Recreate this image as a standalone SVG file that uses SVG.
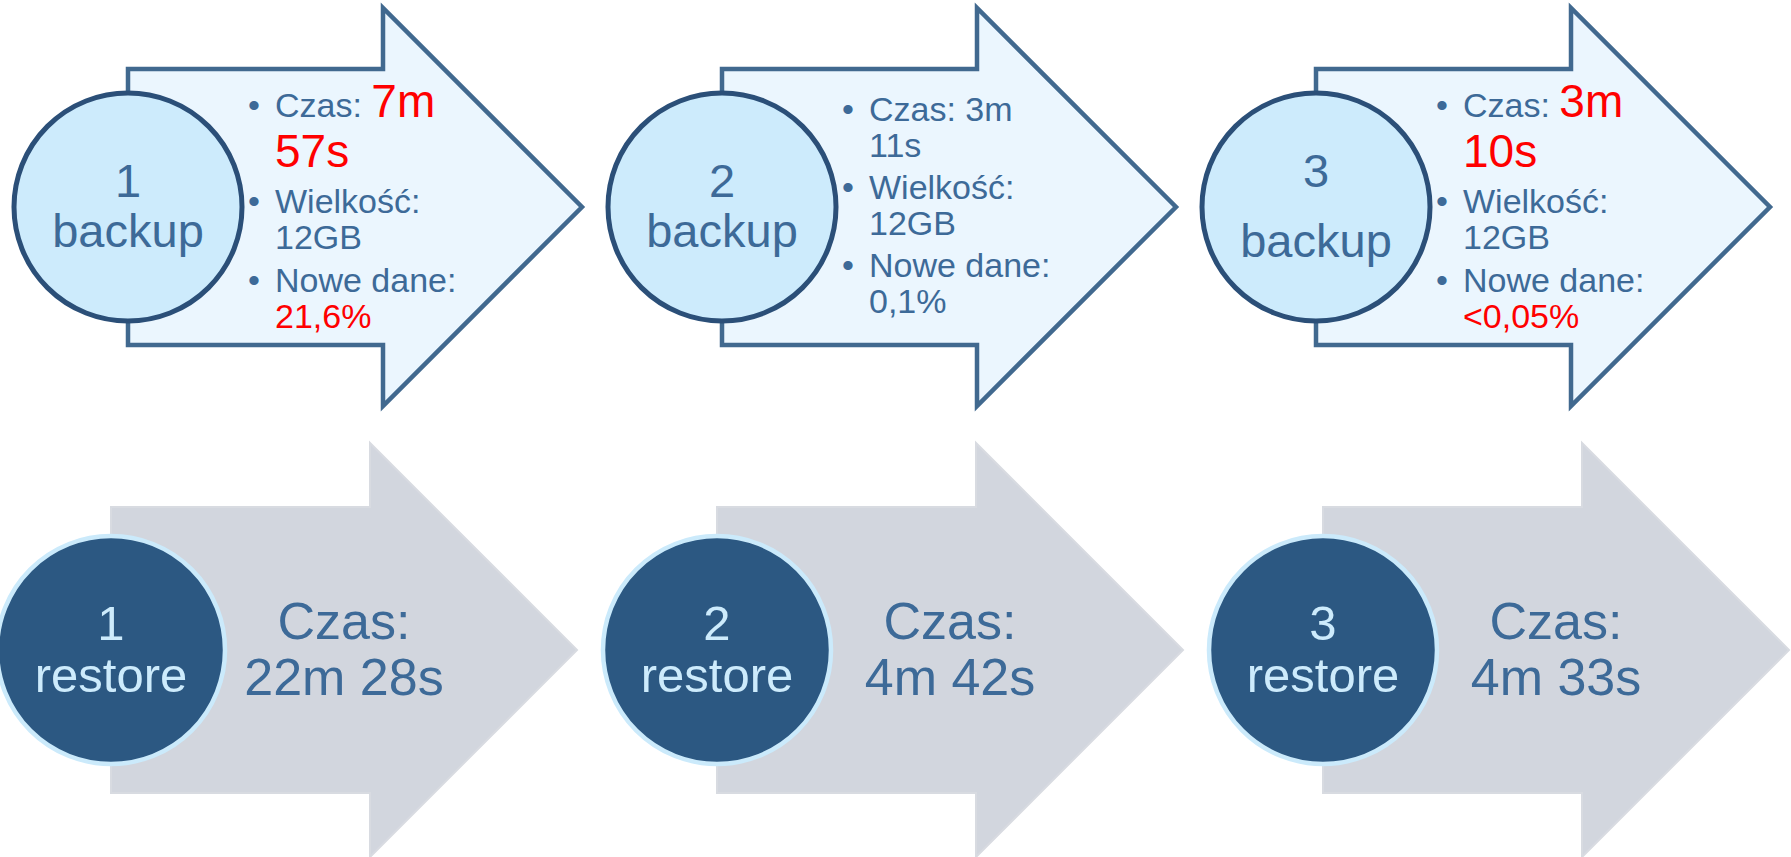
<svg xmlns="http://www.w3.org/2000/svg" xmlns:xlink="http://www.w3.org/1999/xlink" width="1791" height="857" viewBox="0 0 1791 857">
<style>
text{font-family:"Liberation Sans",Arial,sans-serif}
.barrow{fill:#EBF6FE;stroke:#41698F;stroke-width:4.5;stroke-linejoin:miter}
.bcirc{fill:#CDEBFC;stroke:#2B4F78;stroke-width:5}
.rarrow{fill:#D2D6DE;stroke:#D8DBE1;stroke-width:2}
.rcirc{fill:#2C5882;stroke:#CBEAFB;stroke-width:4.5}
.ctext{fill:#3D6A98;font-size:47px;text-anchor:middle}
.rctext{fill:#CDEBFC;font-size:49px;text-anchor:middle}
.btext{fill:#3D6A98;font-size:34px}
.red{fill:#FF0000}
.big{font-size:46px}
.rtext{fill:#3D6A98;font-size:52px;text-anchor:middle}
</style>
<defs>
<path id="bshape" d="M128,69 L383,69 L383,8 L582,207 L383,406 L383,345 L128,345 Z"/>
<path id="rshape" d="M111,507 L370,507 L370,443 L577,650 L370,857 L370,793 L111,793 Z"/>
</defs>
<g id="connectors"/>
<g id="backup1">
<use xlink:href="#bshape" class="barrow"/>
<circle class="bcirc" cx="128" cy="207" r="114"/>
<text class="ctext" x="128" y="197">1</text>
<text class="ctext" x="128" y="247">backup</text>
<text class="btext" x="248" y="117">•</text>
<text class="btext" x="275" y="117">Czas: <tspan class="red big">7m</tspan></text>
<text class="btext red big" x="275" y="167">57s</text>
<text class="btext" x="248" y="213">•</text>
<text class="btext" x="275" y="213">Wielkość:</text>
<text class="btext" x="275" y="249">12GB</text>
<text class="btext" x="248" y="292">•</text>
<text class="btext" x="275" y="292">Nowe dane:</text>
<text class="btext red" x="275" y="328">21,6%</text>
</g>
<g id="backup2">
<use xlink:href="#bshape" class="barrow" transform="translate(594,0)"/>
<circle class="bcirc" cx="722" cy="207" r="114"/>
<text class="ctext" x="722" y="197">2</text>
<text class="ctext" x="722" y="247">backup</text>
<text class="btext" x="842" y="121">•</text>
<text class="btext" x="869" y="121">Czas: 3m</text>
<text class="btext" x="869" y="157">11s</text>
<text class="btext" x="842" y="199">•</text>
<text class="btext" x="869" y="199">Wielkość:</text>
<text class="btext" x="869" y="235">12GB</text>
<text class="btext" x="842" y="277">•</text>
<text class="btext" x="869" y="277">Nowe dane:</text>
<text class="btext" x="869" y="313">0,1%</text>
</g>
<g id="backup3">
<use xlink:href="#bshape" class="barrow" transform="translate(1188,0)"/>
<circle class="bcirc" cx="1316" cy="207" r="114"/>
<text class="ctext" x="1316" y="187">3</text>
<text class="ctext" x="1316" y="257">backup</text>
<text class="btext" x="1436" y="117">•</text>
<text class="btext" x="1463" y="117">Czas: <tspan class="red big">3m</tspan></text>
<text class="btext red big" x="1463" y="167">10s</text>
<text class="btext" x="1436" y="213">•</text>
<text class="btext" x="1463" y="213">Wielkość:</text>
<text class="btext" x="1463" y="249">12GB</text>
<text class="btext" x="1436" y="292">•</text>
<text class="btext" x="1463" y="292">Nowe dane:</text>
<text class="btext red" x="1463" y="328">&lt;0,05%</text>
</g>
<g id="restore1">
<use xlink:href="#rshape" class="rarrow"/>
<circle class="rcirc" cx="111" cy="650" r="114"/>
<text class="rctext" x="111" y="640">1</text>
<text class="rctext" x="111" y="692">restore</text>
<text class="rtext" x="344" y="639">Czas:</text>
<text class="rtext" x="344" y="695">22m 28s</text>
</g>
<g id="restore2">
<use xlink:href="#rshape" class="rarrow" transform="translate(606,0)"/>
<circle class="rcirc" cx="717" cy="650" r="114"/>
<text class="rctext" x="717" y="640">2</text>
<text class="rctext" x="717" y="692">restore</text>
<text class="rtext" x="950" y="639">Czas:</text>
<text class="rtext" x="950" y="695">4m 42s</text>
</g>
<g id="restore3">
<use xlink:href="#rshape" class="rarrow" transform="translate(1212,0)"/>
<circle class="rcirc" cx="1323" cy="650" r="114"/>
<text class="rctext" x="1323" y="640">3</text>
<text class="rctext" x="1323" y="692">restore</text>
<text class="rtext" x="1556" y="639">Czas:</text>
<text class="rtext" x="1556" y="695">4m 33s</text>
</g>
</svg>
